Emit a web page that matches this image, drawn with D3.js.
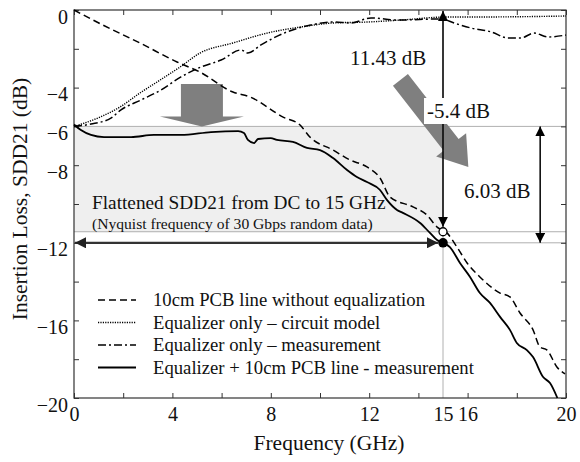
<!DOCTYPE html>
<html>
<head>
<meta charset="utf-8">
<script src="https://cdn.jsdelivr.net/npm/d3@7"></script>
</head>
<body style="margin:0;background:#fff">
<svg id="chart" width="580" height="462"></svg>
<script>
// [GHz, dB]
var pcbLine = [[0,0],[0.93,-0.62],[2.68,-1.7],[4.19,-2.68],[5.12,-3.2],[6.46,-4.23],[7.15,-4.48],[8.5,-5.52],
  [9.19,-5.93],[9.59,-6.55],[10.53,-7.22],[11.22,-7.73],[11.91,-8.09],[12.44,-8.66],[12.85,-9.64],[13.78,-10.15],
  [14.35,-10.57],[14.76,-11.19],[15.16,-11.49],[15.57,-12.22],[15.98,-13.04],[16.5,-13.76],[17.32,-14.59],
  [17.72,-14.79],[18.13,-15.62],[18.66,-16.49],[18.94,-17.37],[19.23,-17.53],[19.63,-18.4],[19.96,-18.76]]

var eqModel = [[0,-6],[1.06,-5.52],[1.87,-5.0],[2.68,-4.28],[3.5,-3.61],[4.31,-2.94],[5.12,-2.22],[6.46,-1.7],
  [7.85,-1.19],[9.19,-0.88],[10.53,-0.67],[11.91,-0.62],[13.25,-0.52],[15.16,-0.36],[16.5,-0.36],[20,-0.31]]

var eqMeas = [[0,-6],[0.69,-5.88],[1.5,-5.57],[1.91,-5.15],[2.72,-4.64],[3.54,-4.12],[4.35,-3.45],[5.16,-2.94],
  [5.98,-2.58],[6.79,-2.06],[7.07,-2.22],[7.6,-1.8],[8.54,-1.19],[9.63,-0.77],[10.57,-0.62],[11.26,-0.67],
  [12.07,-0.41],[13.17,-0.52],[14.92,-0.46],[15.45,-0.67],[16.14,-0.93],[16.96,-1.13],[17.64,-1.44],
  [18.17,-1.44],[18.7,-1.19],[19.27,-1.39],[20,-1.29]]

var eqPcb = [[0,-5.9],[0.28,-6.19],[0.69,-6.44],[1.22,-6.55],[2.32,-6.55],[3.25,-6.44],[4.35,-6.44],[5.57,-6.29],
  [6.67,-6.24],[6.91,-6.34],[7.07,-6.7],[7.32,-6.86],[7.48,-6.65],[8.0,-6.6],[8.25,-6.7],[8.9,-6.8],[9.47,-7.11],
  [10.0,-7.22],[10.53,-7.63],[11.1,-8.25],[11.5,-8.61],[11.91,-8.87],[12.44,-9.28],[12.72,-9.79],[13.13,-10.31],
  [13.37,-10.46],[14.07,-10.98],[14.47,-11.49],[14.76,-11.86],[15.0,-12.0],[15.28,-12.22],[15.69,-13.04],
  [16.1,-13.76],[16.5,-14.59],[16.91,-15.1],[17.32,-15.82],[17.72,-16.49],[18.0,-17.16],[18.41,-17.53],
  [18.66,-17.89],[19.07,-18.92],[19.35,-19.23],[19.65,-20]]

var seriesNames = ["10cm PCB line without equalization", "Equalizer only \u2013 circuit model",
  "Equalizer only \u2013 measurement", "Equalizer + 10cm PCB line - measurement"]
var xTickMarks = d3.range(0, 21, 2)
var xTickLabels = [0, 4, 8, 12, 15, 16, 20]
var yTickMarks = d3.range(0, -21, -2)
var yTickLabels = [0, -4, -6, -8, -12, -16, -20]

var nyquist = 15, flatTop = -6, flatLoss = -11.43, lossAt15 = -12, gainSpan = 18.95

var serif = '"Liberation Serif", serif'
var svg = d3.select("#chart")
var x = d3.scaleLinear().domain([0, 20]).range([74, 566])
var y = d3.scaleLinear().domain([0, -20]).range([10, 398])

function label(sel, size) {
    return sel.style("font-family", serif).style("font-size", size + "px").attr("fill", "#111")
}

var defs = svg.append("defs")
function marker(id, color, size) {
    defs.append("marker").attr("id", id)
        .attr("viewBox", "0 0 10 10").attr("refX", 10).attr("refY", 5)
        .attr("markerWidth", size).attr("markerHeight", size)
        .attr("markerUnits", "userSpaceOnUse").attr("orient", "auto-start-reverse")
        .append("path").attr("d", "M0,0L10,5L0,10z").attr("fill", color)
}
marker("ahBlack", "#000", 10)
marker("ahDark", "#222", 11)

// shaded flat band
svg.append("rect")
    .attr("x", x(0)).attr("y", y(flatTop))
    .attr("width", x(nyquist) - x(0)).attr("height", y(flatLoss) - y(flatTop))
    .attr("fill", "#efefef")

// light reference lines
var grey = "#b0b0b0"
;[flatTop, flatLoss, lossAt15].forEach(function (v) {
    svg.append("line").attr("x1", x(0)).attr("x2", x(20)).attr("y1", y(v)).attr("y2", y(v))
        .attr("stroke", grey).attr("stroke-width", 1)
})
svg.append("line").attr("x1", x(nyquist)).attr("x2", x(nyquist)).attr("y1", y(0)).attr("y2", y(-20))
    .attr("stroke", grey).attr("stroke-width", 1)

// axis frame + ticks
var axisColor = "#333"
svg.append("rect").attr("x", x(0)).attr("y", y(0)).attr("width", x(20) - x(0)).attr("height", y(-20) - y(0))
    .attr("fill", "none").attr("stroke", axisColor).attr("stroke-width", 1.2)

function tickAxis(axis, transform) {
    var g = svg.append("g").attr("transform", transform).call(axis)
    g.select(".domain").remove()
    g.selectAll("line").attr("stroke", axisColor)
    return g
}
tickAxis(d3.axisBottom(x).tickValues(xTickMarks).tickSize(-5).tickFormat(""), `translate(0,${y(-20)})`)
tickAxis(d3.axisTop(x).tickValues(xTickMarks).tickSize(-5).tickFormat(""), `translate(0,${y(0)})`)
tickAxis(d3.axisLeft(y).tickValues(yTickMarks).tickSize(-5).tickFormat(""), `translate(${x(0)},0)`)
tickAxis(d3.axisRight(y).tickValues(yTickMarks).tickSize(-5).tickFormat(""), `translate(${x(20)},0)`)

var xl = svg.append("g").attr("transform", `translate(0,${y(-20)})`)
    .call(d3.axisBottom(x).tickValues(xTickLabels).tickSize(0).tickPadding(9).tickFormat(d3.format("d")))
xl.select(".domain").remove()
label(xl.selectAll("text"), 20)

var yl = svg.append("g").attr("transform", `translate(${x(0)},0)`)
    .call(d3.axisLeft(y).tickValues(yTickLabels).tickSize(0).tickPadding(6).tickFormat(d3.format("d")))
yl.select(".domain").remove()
label(yl.selectAll("text"), 20).attr("dy", "0.65em")

// axis titles
label(svg.append("text"), 21.5).attr("x", 329).attr("y", 450).attr("text-anchor", "middle")
    .text("Frequency (GHz)")
label(svg.append("text"), 21.5).attr("transform", "translate(27,199) rotate(-90)").attr("text-anchor", "middle")
    .text("Insertion Loss, SDD21 (dB)")

// big grey block arrows
function blockArrow(p0, p1, shaftW, headW, headL) {
    var dx = p1[0] - p0[0], dy = p1[1] - p0[1], len = Math.hypot(dx, dy)
    var ux = dx / len, uy = dy / len, nx = -uy, ny = ux
    var bx = p1[0] - ux * headL, by = p1[1] - uy * headL
    return [
        [p0[0] + nx * shaftW / 2, p0[1] + ny * shaftW / 2],
        [bx + nx * shaftW / 2, by + ny * shaftW / 2],
        [bx + nx * headW / 2, by + ny * headW / 2],
        p1,
        [bx - nx * headW / 2, by - ny * headW / 2],
        [bx - nx * shaftW / 2, by - ny * shaftW / 2],
        [p0[0] - nx * shaftW / 2, p0[1] - ny * shaftW / 2]
    ]
}
var arrowGrey = "#7f7f7f"
svg.append("polygon")
    .attr("points", blockArrow([x(5.2), y(-3.82)], [x(5.2), y(-6)], 42, 84, 10).join(" "))
    .attr("fill", arrowGrey)
svg.append("polygon")
    .attr("points", blockArrow([x(13.27), y(-3.6)], [x(16.03), y(-8.09)], 19, 38, 28).join(" "))
    .attr("fill", arrowGrey)

// series
var line = d3.line().x(d => x(d[0])).y(d => y(d[1])).curve(d3.curveMonotoneX)
var styles = [
    { data: pcbLine, dash: "7,4", w: 1.5 },
    { data: eqModel, dash: "1.2,1.2", w: 1.4 },
    { data: eqMeas, dash: "8,3,2,3", w: 1.5 },
    { data: eqPcb, dash: null, w: 1.8 }
]
styles.forEach(function (s) {
    svg.append("path").datum(s.data).attr("d", line)
        .attr("fill", "none").attr("stroke", "#000").attr("stroke-width", s.w)
        .attr("stroke-dasharray", s.dash)
})

// flattened band arrow along -12 dB
svg.append("line").attr("x1", x(0) + 1).attr("x2", x(nyquist) - 5).attr("y1", y(lossAt15)).attr("y2", y(lossAt15))
    .attr("stroke", "#333").attr("stroke-width", 2.2)
    .attr("marker-start", "url(#ahDark)").attr("marker-end", "url(#ahDark)")

// 11.43 dB arrow
svg.append("line").attr("x1", x(nyquist)).attr("x2", x(nyquist)).attr("y1", y(0) + 1).attr("y2", y(flatLoss) - 5)
    .attr("stroke", "#000").attr("stroke-width", 1.5)
    .attr("marker-start", "url(#ahBlack)").attr("marker-end", "url(#ahBlack)")
// 6.03 dB arrow
svg.append("line").attr("x1", x(gainSpan)).attr("x2", x(gainSpan)).attr("y1", y(flatTop)).attr("y2", y(lossAt15))
    .attr("stroke", "#000").attr("stroke-width", 1.5)
    .attr("marker-start", "url(#ahBlack)").attr("marker-end", "url(#ahBlack)")

svg.append("circle").attr("cx", x(nyquist)).attr("cy", y(flatLoss)).attr("r", 4)
    .attr("fill", "#fff").attr("stroke", "#000").attr("stroke-width", 1.3)
svg.append("circle").attr("cx", x(nyquist)).attr("cy", y(lossAt15)).attr("r", 4.8).attr("fill", "#000")

// annotation text
svg.append("rect").attr("x", 424).attr("y", 98).attr("width", 70).attr("height", 26).attr("fill", "#fff")
label(svg.append("text"), 21).attr("x", 350).attr("y", 65).text("11.43 dB")
label(svg.append("text"), 21).attr("x", 427).attr("y", 118).text("-5.4 dB")
label(svg.append("text"), 21).attr("x", 464).attr("y", 198).text("6.03 dB")
label(svg.append("text"), 19.3).attr("x", 92).attr("y", 209).text("Flattened SDD21 from DC to 15 GHz")
label(svg.append("text"), 15.6).attr("x", 92).attr("y", 229).text("(Nyquist frequency of 30 Gbps random data)")

// legend
var legend = svg.append("g").selectAll("g").data(styles).enter().append("g")
    .attr("transform", (d, i) => `translate(98,${300 + i * 22.5})`)
legend.append("line").attr("x1", 0).attr("x2", 38)
    .attr("stroke", "#000").attr("stroke-width", d => d.w).attr("stroke-dasharray", d => d.dash)
label(legend.append("text"), 18.7).attr("x", 55).attr("y", 6)
    .text((d, i) => seriesNames[i])
</script>
</body>
</html>
